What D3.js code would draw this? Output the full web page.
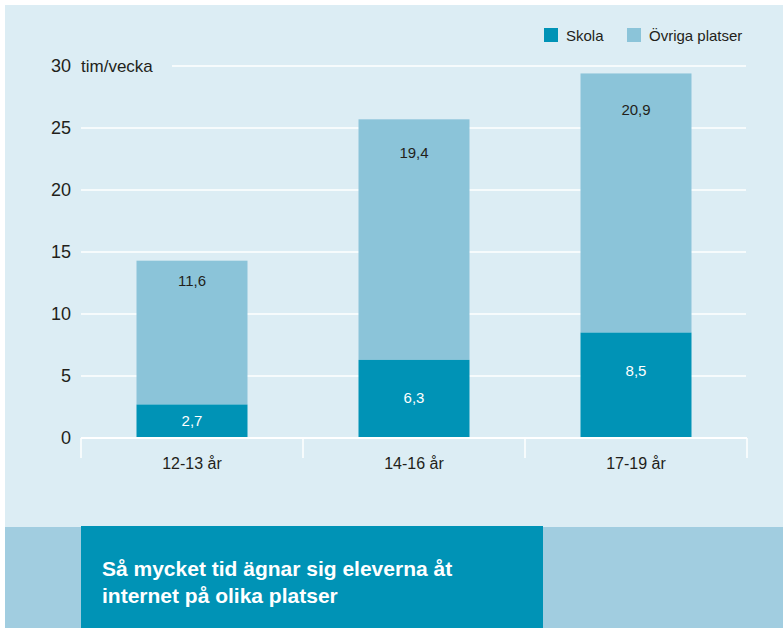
<!DOCTYPE html>
<html>
<head>
<meta charset="utf-8">
<script src="https://cdn.jsdelivr.net/npm/d3@7"></script>
<style>
    html, body { margin: 0; padding: 0; background: #ffffff; }
    svg { display: block; }
    text { font-family: "Liberation Sans", Arial, Helvetica, sans-serif; }
</style>
</head>
<body>
<script>
// chart data
var categories = ['12-13 år', '14-16 år', '17-19 år'];
var skola = [2.7, 6.3, 8.5];
var ovriga = [11.6, 19.4, 20.9];
var yTicks = [0, 5, 10, 15, 20, 25, 30];
var seriesNames = ['Skola', 'Övriga platser'];
var unitLabel = 'tim/vecka';
var captionLines = ['Så mycket tid ägnar sig eleverna åt', 'internet på olika platser'];

var COLORS = {
    panel: '#dcedf4',
    band: '#a1cde0',
    dark: '#0093b6',
    light: '#8bc4d9',
    text: '#231f1a'
};

var W = 783, H = 628;
var svg = d3.select('body').append('svg')
    .attr('width', W)
    .attr('height', H);

// background panel + bottom band
svg.append('rect').attr('x', 5).attr('y', 5).attr('width', W - 5).attr('height', H - 5)
    .style('fill', COLORS.panel);
svg.append('rect').attr('x', 5).attr('y', 527).attr('width', W - 5).attr('height', H - 527)
    .style('fill', COLORS.band);
svg.append('rect').attr('x', 81).attr('y', 526).attr('width', 462).attr('height', H - 526)
    .style('fill', COLORS.dark);

var caption = svg.append('text')
    .attr('x', 102)
    .attr('y', 576)
    .style('fill', '#ffffff')
    .style('font-weight', 'bold')
    .style('font-size', '21px');
caption.selectAll('tspan')
    .data(captionLines)
    .enter().append('tspan')
    .attr('x', 102)
    .attr('dy', function (d, i) { return i == 0 ? 0 : 27; })
    .text(function (d) { return d; });

// scales
var x = d3.scaleBand()
    .domain(categories)
    .range([81, 747])
    .paddingInner(0.5)
    .paddingOuter(0.25);

var y = d3.scaleLinear()
    .domain([0, 30])
    .range([438, 66]);

// gridlines
var grid = svg.append('g').attr('class', 'grid');
grid.selectAll('line')
    .data(yTicks.filter(function (t) { return t > 0; }))
    .enter().append('line')
    .attr('x1', function (d) { return d == 30 ? 172 : 81; })
    .attr('x2', 746)
    .attr('y1', function (d) { return y(d); })
    .attr('y2', function (d) { return y(d); })
    .style('stroke', '#ffffff')
    .style('stroke-width', 1.5);

// y tick labels
svg.append('g').selectAll('text')
    .data(yTicks)
    .enter().append('text')
    .attr('x', 71)
    .attr('y', function (d) { return y(d) + 6; })
    .attr('text-anchor', 'end')
    .style('font-size', '18px')
    .style('fill', COLORS.text)
    .text(function (d) { return d; });

svg.append('text')
    .attr('x', 81)
    .attr('y', y(30) + 6)
    .style('font-size', '17px')
    .style('fill', COLORS.text)
    .text(unitLabel);

// bars
var rows = categories.map(function (c, i) {
    return { cat: c, skola: skola[i], ovriga: ovriga[i] };
});

var bars = svg.append('g').attr('class', 'bars');
var item = bars.selectAll('.item')
    .data(rows)
    .enter().append('g')
    .attr('class', 'item');

item.append('rect')
    .attr('x', function (d) { return x(d.cat); })
    .attr('width', x.bandwidth())
    .attr('y', function (d) { return y(d.skola + d.ovriga); })
    .attr('height', function (d) { return y(d.skola) - y(d.skola + d.ovriga); })
    .style('fill', COLORS.light);

item.append('rect')
    .attr('x', function (d) { return x(d.cat); })
    .attr('width', x.bandwidth())
    .attr('y', function (d) { return y(d.skola); })
    .attr('height', function (d) { return y(0) - y(d.skola); })
    .style('fill', COLORS.dark);

var fmt = function (v) { return String(v.toFixed(1)).replace('.', ','); };

item.append('text')
    .attr('x', function (d) { return x(d.cat) + x.bandwidth() / 2; })
    .attr('y', function (d) {
        var top = y(d.skola + d.ovriga), h = y(d.skola) - top;
        return top + h * 0.14 + 5;
    })
    .attr('text-anchor', 'middle')
    .style('font-size', '15px')
    .style('fill', COLORS.text)
    .text(function (d) { return fmt(d.ovriga); });

item.append('text')
    .attr('x', function (d) { return x(d.cat) + x.bandwidth() / 2; })
    .attr('y', function (d) {
        var top = y(d.skola), mid = (top + y(0)) / 2;
        return Math.min(mid, top + 38) + 5;
    })
    .attr('text-anchor', 'middle')
    .style('font-size', '15px')
    .style('fill', '#ffffff')
    .text(function (d) { return fmt(d.skola); });

// baseline + category separators
var axis = svg.append('g').attr('class', 'x-axis');
axis.append('line')
    .attr('x1', 81).attr('x2', 747)
    .attr('y1', y(0)).attr('y2', y(0))
    .style('stroke', '#ffffff')
    .style('stroke-width', 2);

var seps = [81].concat(categories.map(function (c) { return x(c) + x.bandwidth() * 1.5; }));
axis.selectAll('.sep')
    .data(seps)
    .enter().append('line')
    .attr('class', 'sep')
    .attr('x1', function (d) { return d; })
    .attr('x2', function (d) { return d; })
    .attr('y1', y(0))
    .attr('y2', y(0) + 20)
    .style('stroke', '#ffffff')
    .style('stroke-width', 1.5);

axis.selectAll('.cat')
    .data(categories)
    .enter().append('text')
    .attr('class', 'cat')
    .attr('x', function (d) { return x(d) + x.bandwidth() / 2; })
    .attr('y', 469)
    .attr('text-anchor', 'middle')
    .style('font-size', '16px')
    .style('fill', COLORS.text)
    .text(function (d) { return d; });

// legend
var legendPos = [544, 627];
var legend = svg.append('g').attr('class', 'legend');
var legendItem = legend.selectAll('.item')
    .data(seriesNames)
    .enter().append('g')
    .attr('class', 'item')
    .attr('transform', function (d, i) {
        return 'translate(' + legendPos[i] + ',28)';
    });

legendItem.append('rect')
    .attr('width', 14)
    .attr('height', 14)
    .style('fill', function (d, i) { return i == 0 ? COLORS.dark : COLORS.light; });

legendItem.append('text')
    .attr('x', 22)
    .attr('y', 12.5)
    .style('font-size', '15px')
    .style('fill', COLORS.text)
    .text(function (d) { return d; });
</script>
</body>
</html>
